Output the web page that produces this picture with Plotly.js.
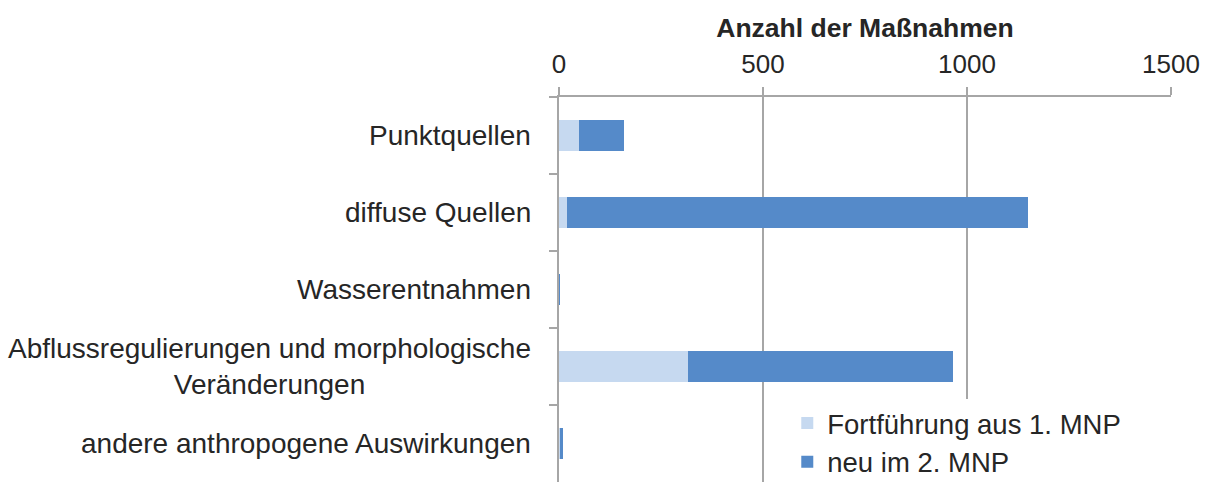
<!DOCTYPE html>
<html>
<head>
<meta charset="utf-8">
<script src="https://cdn.plot.ly/plotly-3.0.1.min.js"></script>
<style>html,body{margin:0;padding:0;background:#fff;}#chart{width:1210px;height:482px;}</style>
</head>
<body>
<div id="chart"></div>
<script>
var categories = ["Punktquellen", "diffuse Quellen", "Wasserentnahmen", "Abflussregulierungen und morphologische<br>Veränderungen", "andere anthropogene Auswirkungen"];
var fortfuehrung = [50, 20, 0, 317, 2];
var neu = [110, 1130, 2, 649, 7];
var seriesNames = ["Fortführung aus 1. MNP", "neu im 2. MNP"];
var xTicks = [0, 500, 1000, 1500];

var catKeys = categories.map(function (c, i) { return "c" + i; });

var traces = [
  {type: "bar", orientation: "h", name: seriesNames[0], y: catKeys, x: fortfuehrung,
   marker: {color: "#c6d9f0"}, hoverinfo: "x+name"},
  {type: "bar", orientation: "h", name: seriesNames[1], y: catKeys, x: neu,
   marker: {color: "#558ac9"}, hoverinfo: "x+name"}
];

var annotations = categories.map(function (c, i) {
  return {xref: "paper", yref: "y", x: 0, y: catKeys[i], xanchor: "right", yanchor: "middle",
          xshift: -26, text: c, showarrow: false, align: "center",
          font: {family: "Liberation Sans, Arial, sans-serif", size: 28, color: "#262626"}};
});

var layout = {
  width: 1210, height: 482,
  margin: {l: 559, r: 39, t: 97, b: 0, autoexpand: false},
  paper_bgcolor: "#fff", plot_bgcolor: "#fff",
  barmode: "stack", bargap: 0.6,
  font: {family: "Liberation Sans, Arial, sans-serif", size: 27, color: "#262626"},
  showlegend: true,
  legend: {x: 0.373, xanchor: "left", y: -0.012, yanchor: "bottom", bgcolor: "#fff",
           font: {size: 27.5, color: "#262626"}, traceorder: "normal", itemwidth: 30, tracegroupgap: 0},
  xaxis: {side: "top", range: [0, 1500], tickvals: xTicks, ticktext: xTicks.map(String),
          showgrid: true, gridcolor: "#a6a6a6", gridwidth: 1.5,
          showline: true, linecolor: "#a6a6a6", linewidth: 2,
          ticks: "outside", ticklen: 8, tickcolor: "#a6a6a6", tickwidth: 2,
          ticklabelstandoff: 4,
          tickfont: {size: 26, color: "#262626"}, zeroline: false,
          title: {text: "<b>Anzahl der Maßnahmen</b>", font: {size: 26.5, color: "#262626"}, standoff: 3}},
  yaxis: {type: "category", categoryarray: catKeys, autorange: "reversed",
          showticklabels: false, showgrid: false, zeroline: false,
          showline: true, linecolor: "#a6a6a6", linewidth: 2,
          ticks: "outside", tickson: "boundaries", ticklen: 8, tickcolor: "#a6a6a6", tickwidth: 2},
  annotations: annotations
};

Plotly.newPlot("chart", traces, layout, {displayModeBar: false, staticPlot: true});
</script>
</body>
</html>
